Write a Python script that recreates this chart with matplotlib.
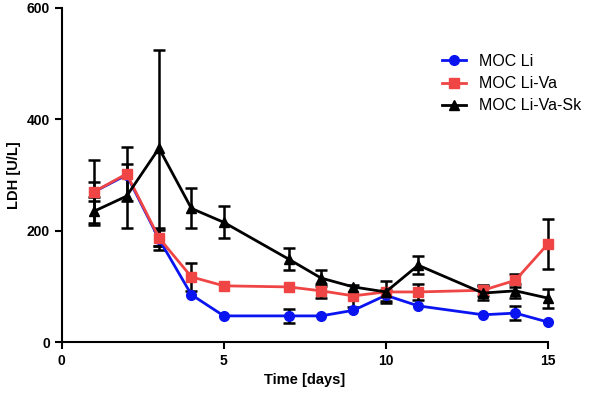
import matplotlib.pyplot as plt
import numpy as np

plt.rcParams['font.family'] = ['Liberation Sans', 'DejaVu Sans']

days = [1, 2, 3, 4, 5, 7, 8, 9, 10, 11, 13, 14, 15]

li = [270, 300, 185, 85, 47, 47, 47, 57, 84, 65, 49, 52, 36]
li_err = [17, 0, 20, 0, 0, 12, 0, 0, 10, 0, 0, 12, 0]

li_va = [270, 302, 187, 117, 101, 99, 92, 83, 90, 90, 93, 111, 176]
li_va_err = [57, 48, 15, 25, 0, 0, 12, 20, 0, 15, 10, 12, 45]

li_va_sk = [235, 262, 348, 240, 215, 149, 115, 99, 90, 138, 88, 92, 79]
li_va_sk_err = [25, 58, 176, 36, 29, 20, 15, 0, 20, 16, 12, 12, 17]

fig = plt.figure(figsize=(6, 3.95), dpi=100)
ax = fig.add_axes([0.103, 0.134, 0.81, 0.846])

common = dict(lw=2, ms=7, ecolor='black', elinewidth=1.8, capsize=4, capthick=1.8, clip_on=False)
series = [
    (li, li_err, '#0a14f0', 'o', 'MOC Li'),
    (li_va, li_va_err, '#f04545', 's', 'MOC Li-Va'),
    (li_va_sk, li_va_sk_err, 'black', '^', 'MOC Li-Va-Sk'),
]
handles = []
labels = []
for y, err, c, m, lab in series:
    e = np.where(np.array(err) > 0, err, np.nan)
    cont = ax.errorbar(days, y, yerr=e, color=c, marker=m, **common)
    handles.append(cont[0])
    labels.append(lab)

ax.set_xlim(0, 15)
ax.set_ylim(0, 600)
ax.set_xticks([0, 5, 10, 15])
ax.set_yticks([0, 200, 400, 600])
ax.spines['top'].set_visible(False)
ax.spines['right'].set_visible(False)
for s in ['left', 'bottom']:
    ax.spines[s].set_linewidth(1.5)
ax.tick_params(width=1.5, length=5, labelsize=10)
for t in ax.get_xticklabels() + ax.get_yticklabels():
    t.set_fontweight('bold')
ax.set_xlabel('Time [days]', fontsize=10.5, fontweight='bold')
ax.set_ylabel('LDH [U/L]', fontsize=10.5, fontweight='bold')

ax.legend(handles, labels, loc='upper left', bbox_to_anchor=(0.753, 0.905), frameon=False,
          fontsize=11.5, handlelength=1.5, handletextpad=0.8, labelspacing=0.45)

fig.savefig('out.png', dpi=100)
